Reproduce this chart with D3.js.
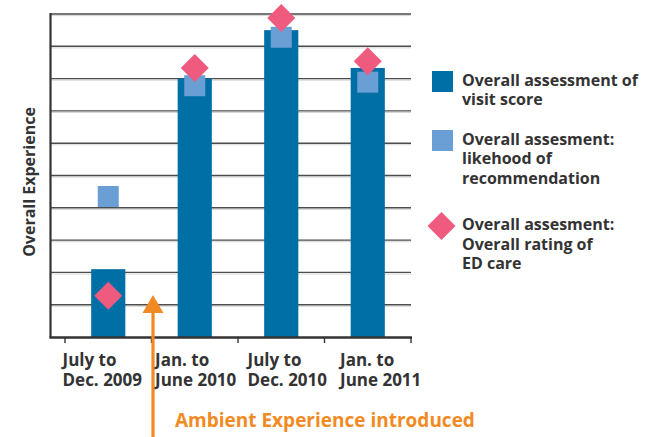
<!DOCTYPE html>
<html>
<head>
<meta charset="utf-8">
<script src="https://cdn.jsdelivr.net/npm/d3@7"></script>
<style>
  html, body { margin: 0; padding: 0; background: #fff; }
  svg { display: block; }
  text { font-family: "Open Sans", "Noto Sans", sans-serif; font-weight: 700; fill: #333; }
</style>
</head>
<body>
<svg id="chart" width="651" height="437"></svg>
<script>
// ---- data ----
const categories = ["July to|Dec. 2009", "Jan. to|June 2010", "July to|Dec. 2010", "Jan. to|June 2011"];
const visitScore = [2.1, 8.0, 9.5, 8.33];
const likelihood = [4.35, 7.78, 9.28, 7.89];
const edRating = [1.28, 8.33, 9.88, 8.54];
const yTicks = [0, 1, 2, 3, 4, 5, 6, 7, 8, 9, 10];
const legendItems = [
  { kind: "bar", lines: ["Overall assessment of", "visit score"] },
  { kind: "square", lines: ["Overall assesment:", "likehood of", "recommendation"] },
  { kind: "diamond", lines: ["Overall assesment:", "Overall rating of", "ED care"] }
];
const annotation = "Ambient Experience introduced";
const yTitle = "Overall Experience";

// ---- colours ----
const cBar = "#006fa6", cSq = "#6a9fd6", cDia = "#ef5b7f", cOrange = "#f28a23";

const svg = d3.select("#chart");

const x = d3.scaleBand().domain(categories).range([65, 411]).padding(0);
const y = d3.scaleLinear().domain([0, 10]).range([337, 14]);
const labelX = d3.scalePoint().domain(categories).range([62.5, 340]);
const barW = x.bandwidth() * 0.395;
const cx = d => x(d) + x.bandwidth() / 2;

// gridlines (dark line with light shadow)
const grid = svg.append("g");
grid.selectAll("line.shadow").data(yTicks.slice(1)).join("line")
  .attr("x1", 51).attr("x2", 411)
  .attr("y1", d => y(d) + 1.6).attr("y2", d => y(d) + 1.6)
  .attr("stroke", "#d6d6d6").attr("stroke-width", 1);
grid.selectAll("line.main").data(yTicks.slice(1)).join("line")
  .attr("x1", 51).attr("x2", 411)
  .attr("y1", d => y(d)).attr("y2", d => y(d))
  .attr("stroke", "#4d4d4d").attr("stroke-width", 1.4);

// bars
svg.append("g").selectAll("rect").data(categories).join("rect")
  .attr("x", (d) => cx(d) - barW / 2)
  .attr("width", barW)
  .attr("y", (d, i) => y(visitScore[i]))
  .attr("height", (d, i) => y(0) - y(visitScore[i]))
  .attr("fill", cBar);

// axes
svg.append("line").attr("x1", 50.5).attr("x2", 50.5).attr("y1", y(10) - 1).attr("y2", y(0) + 1)
  .attr("stroke", "#333").attr("stroke-width", 2.2);
svg.append("line").attr("x1", 49.5).attr("x2", 412).attr("y1", y(0) + 0.5).attr("y2", y(0) + 0.5)
  .attr("stroke", "#333").attr("stroke-width", 2.4);
const tickXs = categories.map(d => x(d)).concat([x.range()[1]]);
svg.append("g").selectAll("line").data(tickXs).join("line")
  .attr("x1", d => d).attr("x2", d => d).attr("y1", y(0)).attr("y2", y(0) + 6)
  .attr("stroke", "#333").attr("stroke-width", 1.4);

// squares
const sq = 21;
svg.append("g").selectAll("rect").data(categories).join("rect")
  .attr("x", d => cx(d) - sq / 2)
  .attr("y", (d, i) => y(likelihood[i]) - sq / 2)
  .attr("width", sq).attr("height", sq)
  .attr("fill", cSq);

// diamonds
const dr = 14;
const diamond = (px, py) => `M${px},${py - dr}L${px + dr},${py}L${px},${py + dr}L${px - dr},${py}Z`;
svg.append("g").selectAll("path").data(categories).join("path")
  .attr("d", (d, i) => diamond(cx(d), y(edRating[i])))
  .attr("fill", cDia);

// category labels
const lab = svg.append("g").selectAll("text").data(categories).join("text")
  .attr("text-anchor", "start").attr("font-size", 17);
lab.each(function (d) {
  const parts = d.split("|");
  d3.select(this).selectAll("tspan").data(parts).join("tspan")
    .attr("x", labelX(d))
    .attr("y", (p, j) => 366 + j * 20.3)
    .text(p => p);
});

// y title
svg.append("text")
  .attr("transform", "translate(34.5,182) rotate(-90)")
  .attr("text-anchor", "middle").attr("font-size", 16)
  .text(yTitle);

// legend
const legendY = [71, 130, 226];
legendItems.forEach((it, i) => {
  const top = legendY[i];
  if (it.kind === "bar") {
    svg.append("rect").attr("x", 432).attr("y", top).attr("width", 21).attr("height", 21).attr("fill", cBar);
  } else if (it.kind === "square") {
    svg.append("rect").attr("x", 432).attr("y", top).attr("width", 21).attr("height", 21).attr("fill", cSq);
  } else {
    svg.append("path").attr("d", diamond(441.5, top)).attr("fill", cDia);
  }
  const baseline = it.kind === "diamond" ? 230 : top + 14.5;
  const t = svg.append("text").attr("font-size", 16);
  it.lines.forEach((ln, j) => {
    t.append("tspan").attr("x", 462).attr("y", baseline + j * 19.5).text(ln);
  });
});

// arrow annotation
const ax = x(categories[1]) + 1.5;
svg.append("line").attr("x1", ax).attr("x2", ax).attr("y1", 437).attr("y2", 310)
  .attr("stroke", cOrange).attr("stroke-width", 3.2);
svg.append("path").attr("d", `M${ax},295L${ax + 10.5},313L${ax - 10.5},313Z`).attr("fill", cOrange);
svg.append("text").attr("x", 175).attr("y", 427).attr("font-size", 19)
  .style("fill", cOrange).text(annotation);
</script>
</body>
</html>
